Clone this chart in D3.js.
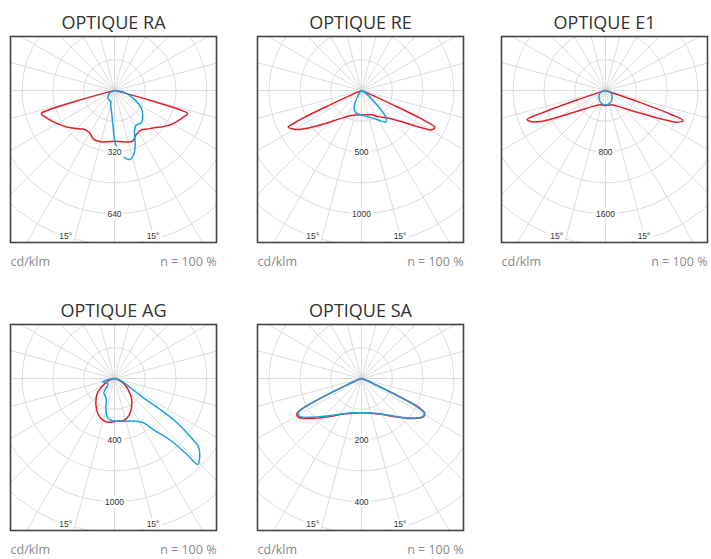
<!DOCTYPE html>
<html>
<head>
<meta charset="utf-8">
<title>Optiques</title>
<style>
body { margin: 0; background: #fff; }
svg { display: block; }
.grid { fill: none; stroke: #dcdcdc; stroke-width: 1px; }
.frame { fill: none; stroke: #444; stroke-width: 1.6px; }
.curve { fill: none; stroke-width: 1.5px; stroke-linejoin: round; }
.title { font: 18px "Open Sans", sans-serif; fill: #333; text-anchor: middle; }
.foot { font: 12.5px "Open Sans", sans-serif; fill: #8a8a8a; }
.ring-label { font: 8.5px "Liberation Sans", Arial, sans-serif; fill: #333; text-anchor: middle; }
</style>
</head>
<body>
<script src="https://cdn.jsdelivr.net/npm/d3@7"></script>
<script>

// titles and ring labels
var titles = ["OPTIQUE RA", "OPTIQUE RE", "OPTIQUE E1", "OPTIQUE AG", "OPTIQUE SA"];
var ringLabels = [["320", "640"], ["500", "1000"], ["800", "1600"], ["400", "1000"], ["200", "400"]];
var ringStep = [160, 250, 400, 250, 100];   // cd/klm per ring
var unitLabel = "cd/klm";
var effLabel = "n = 100 %";
var angleLabel = "15°";

// [gamma (deg from nadir, + = right), cd/klm] ; red = C0-C180, blue = C90-C270
var raRed = [[-90,0],[-80,4],[-76,30],[-74.5,200],[-73.5,360],[-72.5,398],[-69,385],[-64.6,364],[-58,335],[-51.8,309],[-45,280],[-37.6,256],[-30.6,255],[-22.9,276],[-14.5,275],[-7,268],[0,263],[11,272],[19.9,280],[26.2,255],[33.9,248],[40,262],[47,284],[53,312],[59,343],[67.2,376],[72.5,398],[73.5,360],[74.5,200],[76,30],[80,4],[90,0]];
var raBlue = [[-90,0],[-68,19],[-56,37],[-42,51],[-30,57],[-20.5,59],[-12,90],[-6.4,125],[-2,194],[0.8,272],[4,312],[7,343],[12.3,367],[16.8,347],[21,300],[26.2,235],[32,212],[39.6,218],[47.8,198],[57,165],[68,102],[81,44],[90,0]];

var reRed = [[-90,0],[-72,3],[-67,60],[-65.5,280],[-64.5,560],[-63.4,666],[-61,640],[-59,615],[-54.2,517],[-47,389],[-37.5,290],[-21.8,218],[-10,202],[0,197],[10,200],[22.4,213],[32,250],[42.5,300],[52.8,425],[57.8,559],[60.7,652],[63.4,666],[64.5,560],[65.5,280],[67,60],[72,3],[90,0]];
var reBlue = [[-90,0],[-60,2],[-45,15],[-33.7,49],[-26.7,121],[-20.8,168],[-12.4,188],[3.8,204],[22.9,244],[33.1,297],[37.5,324],[41.4,307],[45,230],[49.5,125],[56.6,49],[70,5],[90,0]];

var e1Red = [[-90,0],[-78,3],[-73,40],[-71.5,400],[-70.5,900],[-69.7,1085],[-67.5,1055],[-64.5,935],[-61,717],[-53.8,456],[-36.7,253],[-19.3,197],[0,195],[19.3,197],[36.7,253],[55.6,499],[62.8,804],[66.2,1018],[68.9,1082],[70,900],[71,400],[72.5,40],[78,3],[90,0]];
var e1Blue = [[-90,0],[-75,45],[-60,90],[-40,132],[-20,172],[0,186],[20,172],[40,132],[60,90],[75,45],[90,0]];

var agRed = [[-90,0],[-78,15],[-68,58],[-56.8,123],[-49,186],[-36.8,253],[-25.5,315],[-15.7,351],[-7.8,358],[2.2,347],[12.5,349],[20.4,326],[30.1,275],[40.4,213],[50.1,148],[62.6,76],[75,20],[90,0]];
var agBlue = [[-90,0],[-82,40],[-74.6,101],[-60,70],[-45,76],[-37.4,143],[-22.5,176],[-16.1,253],[-10.8,317],[-4.5,342],[8.9,351],[25.1,382],[32.8,425],[37.7,531],[42.3,683],[43.7,861],[44.1,972],[48,931],[50.9,879],[52.3,787],[54.6,631],[55.8,458],[56.3,293],[59.1,158],[68.3,72],[80,15],[90,0]];

var saRed = [[-90,0],[-72,8],[-66.2,55],[-64.8,112],[-63.5,200],[-62,235],[-61,241],[-58,239],[-52.3,212],[-42.4,169],[-27.2,130],[-12,115],[0,111],[12,115],[27.2,130],[42.4,169],[52.3,212],[58.2,236],[61.1,235],[62.5,222],[63.5,200],[64.8,105],[66.2,55],[72,8],[90,0]];
var saBlue = [[-90,0],[-72,8],[-66.2,53],[-64.8,108],[-63.5,195],[-62,230],[-61,236],[-58,234],[-52.3,206],[-42.4,165],[-27.2,129],[-12,114],[0,111],[12,114],[27.2,129],[42.4,167],[52.3,210],[58.2,234],[61.1,233],[62.5,210],[63.5,185],[64.8,100],[66.2,50],[72,8],[90,0]];

var redSeries = [raRed, reRed, e1Red, agRed, saRed];
var blueSeries = [raBlue, reBlue, e1Blue, agBlue, saBlue];

var width = 711, height = 559;
var box = 206, ringPx = 30.8;
// top-left corner of each frame
var origins = [[10.5, 36.5], [257.5, 36.5], [501.5, 36.5], [10.5, 324.5], [257.5, 324.5]];

var svg = d3.select("body").append("svg")
    .attr("width", width)
    .attr("height", height);

var rad = Math.PI / 180;

titles.forEach(function(title, i) {
  var x0 = origins[i][0], y0 = origins[i][1];
  var cx = box / 2 + 1, cy = 54;

  var r = d3.scaleLinear().domain([0, ringStep[i]]).range([0, ringPx]);

  var g = svg.append("g").attr("transform", "translate(" + x0 + "," + y0 + ")");

  g.append("clipPath").attr("id", "clip" + i)
    .append("rect").attr("width", box).attr("height", box);

  var plot = g.append("g").attr("clip-path", "url(#clip" + i + ")");
  var inner = plot.append("g").attr("transform", "translate(" + cx + "," + cy + ")");

  // rings
  inner.selectAll("circle.grid")
      .data(d3.range(1, 7))
      .enter().append("circle")
      .attr("class", "grid")
      .attr("r", function(k) { return k * ringPx; });

  // radials every 15 deg
  inner.selectAll("line.grid")
      .data(d3.range(0, 360, 15))
      .enter().append("line")
      .attr("class", "grid")
      .attr("x1", 0).attr("y1", 0)
      .attr("x2", function(a) { return 320 * Math.sin(a * rad); })
      .attr("y2", function(a) { return 320 * Math.cos(a * rad); });

  // intensity curves
  var line = d3.lineRadial()
      .angle(function(d) { return Math.PI - d[0] * rad; })
      .radius(function(d) { return r(d[1]); })
      .curve(d3.curveCatmullRom.alpha(0.5));

  inner.append("path")
      .attr("class", "curve")
      .attr("stroke", "#e31e2b")
      .attr("d", line(redSeries[i]));

  inner.append("path")
      .attr("class", "curve")
      .attr("stroke", "#1ba1df")
      .attr("d", line(blueSeries[i]));

  // labels with white background
  var labels = [
    {t: ringLabels[i][0], x: 0, y: 2 * ringPx},
    {t: ringLabels[i][1], x: 0, y: 4 * ringPx},
    {t: angleLabel, x: 5 * ringPx * Math.sin(-18.5 * rad), y: 146},
    {t: angleLabel, x: 5 * ringPx * Math.sin(14.5 * rad), y: 146}
  ];
  labels.forEach(function(l) {
    var bg = inner.append("rect").attr("fill", "#fff");
    var t = inner.append("text")
        .attr("class", "ring-label")
        .attr("x", l.x)
        .attr("y", l.y)
        .attr("dy", "0.35em")
        .text(l.t);
    var bb = t.node().getBBox();
    bg.attr("x", bb.x - 2).attr("y", bb.y - 0.5)
      .attr("width", bb.width + 4).attr("height", bb.height + 1);
  });

  g.append("rect")
      .attr("class", "frame")
      .attr("width", box)
      .attr("height", box);

  g.append("text")
      .attr("class", "title")
      .attr("x", box / 2)
      .attr("y", -7.5)
      .text(title);

  g.append("text")
      .attr("class", "foot")
      .attr("x", 0)
      .attr("y", 229)
      .text(unitLabel);

  g.append("text")
      .attr("class", "foot")
      .attr("x", box)
      .attr("y", 229)
      .attr("text-anchor", "end")
      .text(effLabel);
});

</script>
</body>
</html>
